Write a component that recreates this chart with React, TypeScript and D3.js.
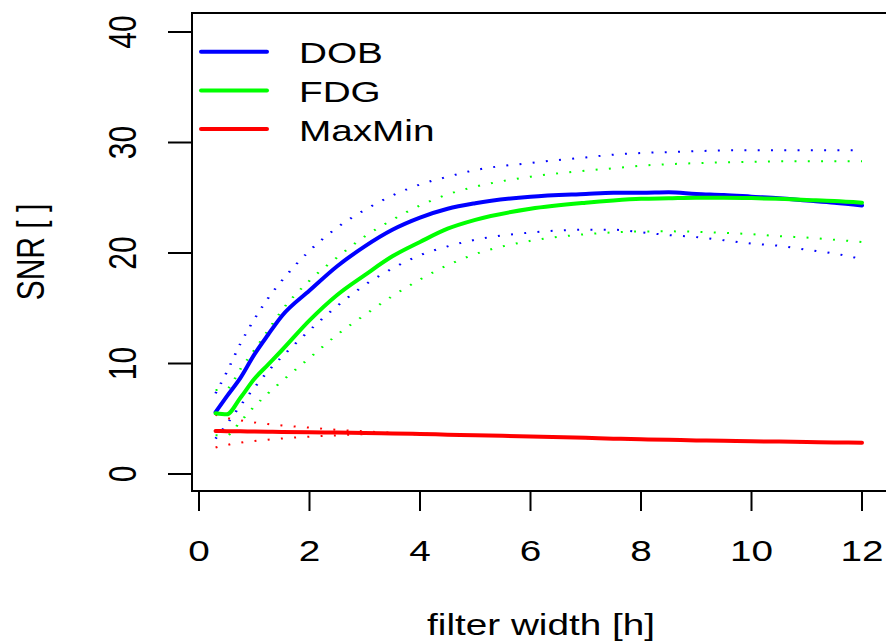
import React from "react";
import * as d3 from "d3";

// ---- data ----
const X = [0.3, 0.5, 0.75, 1, 1.25, 1.5, 2, 2.5, 3, 3.5, 4, 4.5, 5, 6, 7, 7.5, 8, 8.5, 9, 9.5, 10, 10.5, 11, 11.5, 12];

const DOB = [5.6, 7.0, 8.7, 10.8, 12.6, 14.3, 16.6, 18.8, 20.6, 22.1, 23.2, 24.0, 24.5, 25.1, 25.35, 25.45, 25.45, 25.5, 25.35, 25.25, 25.1, 24.95, 24.75, 24.55, 24.3];
const DOB_UP = [7.3, 9.2, 11.8, 14.0, 15.9, 17.5, 20.2, 22.3, 23.9, 25.2, 26.2, 26.9, 27.5, 28.15, 28.65, 28.9, 29.05, 29.13, 29.22, 29.28, 29.3, 29.3, 29.3, 29.3, 29.3];
const DOB_LO = [3.2, 4.5, 6.2, 7.8, 9.3, 10.6, 13.0, 15.2, 17.1, 18.6, 19.8, 20.6, 21.2, 21.85, 22.1, 22.1, 21.88, 21.62, 21.45, 21.15, 20.85, 20.65, 20.3, 19.95, 19.45];

const FDG = [5.5, 5.4, 6.9, 8.6, 9.9, 11.2, 13.9, 16.2, 18.0, 19.7, 21.0, 22.2, 23.0, 24.0, 24.55, 24.75, 24.9, 24.95, 25.0, 25.0, 24.97, 24.9, 24.8, 24.7, 24.55];
const FDG_UP = [7.6, 7.7, 9.5, 11.2, 13.0, 14.8, 17.5, 19.6, 21.5, 23.0, 24.3, 25.3, 26.0, 26.9, 27.45, 27.67, 27.9, 28.04, 28.13, 28.2, 28.25, 28.3, 28.3, 28.3, 28.3];
const FDG_LO = [3.5, 3.5, 4.75, 6.1, 7.3, 8.4, 10.5, 12.6, 14.4, 16.1, 17.6, 18.9, 19.9, 21.1, 21.7, 21.87, 21.95, 21.96, 21.92, 21.82, 21.7, 21.52, 21.4, 21.2, 21.0];

const MAXMIN = [3.9, 3.88, 3.86, 3.84, 3.82, 3.8, 3.78, 3.75, 3.72, 3.67, 3.62, 3.56, 3.5, 3.4, 3.27, 3.2, 3.14, 3.09, 3.04, 3.0, 2.96, 2.93, 2.89, 2.86, 2.83];
const MAXMIN_UP = [5.35, 5.08, 4.85, 4.67, 4.52, 4.39, 4.2, 4.0, 3.86, 3.74, 3.66, 3.58, 3.52, 3.42, 3.29, 3.22, 3.16, 3.11, 3.06, 3.02, 2.98, 2.95, 2.91, 2.88, 2.85];
const MAXMIN_LO = [2.4, 2.62, 2.84, 2.98, 3.1, 3.21, 3.38, 3.5, 3.6, 3.62, 3.58, 3.54, 3.48, 3.38, 3.25, 3.18, 3.12, 3.07, 3.02, 2.98, 2.94, 2.91, 2.87, 2.84, 2.81];

const X_TICKS = [0, 2, 4, 6, 8, 10, 12];
const Y_TICKS = [0, 10, 20, 30, 40];
const LEGEND = ["DOB", "FDG", "MaxMin"];
const COLORS = ["#0000ff", "#00ff00", "#ff0000"];
const X_LABEL = "filter width [h]";
const Y_LABEL = "SNR [ ]";

// ---- layout ----
const W = 886, H = 644;
const SX = 1.29; // horizontal stretch of the original picture
const FONT = "'Liberation Sans', Arial, Helvetica, sans-serif";
const FS = 30;
const BOX = { left: 192, right: 888, top: 13, bottom: 491 };

export default function App() {
  const x = d3.scaleLinear().domain([0, 12]).range([199, 862]);
  const y = d3.scaleLinear().domain([0, 40]).range([474, 32]);

  const solid = (vals: number[]) =>
    d3.line<number>().x((_, i) => x(X[i])).y((d) => y(d)).curve(d3.curveMonotoneX)(vals) || "";
  // dotted lines drawn in unstretched local coordinates, then stretched
  const dotted = (vals: number[]) =>
    d3.line<number>().x((_, i) => x(X[i]) / SX).y((d) => y(d)).curve(d3.curveMonotoneX)(vals) || "";

  const series = [
    { mid: DOB, up: DOB_UP, lo: DOB_LO, color: COLORS[0] },
    { mid: FDG, up: FDG_UP, lo: FDG_LO, color: COLORS[1] },
    { mid: MAXMIN, up: MAXMIN_UP, lo: MAXMIN_LO, color: COLORS[2] },
  ];

  const txt = (tx: number, ty: number, rot: boolean) =>
    `translate(${tx},${ty}) scale(${SX},1)${rot ? " rotate(-90)" : ""}`;

  return (
    <svg width={W} height={H} style={{ position: "absolute", left: 0, top: 0, background: "#fff" }}
      fontFamily={FONT} fontSize={FS}>
      <rect x={0} y={0} width={W} height={H} fill="#fff" />
      {/* dotted confidence bands */}
      <g transform={`scale(${SX},1)`} fill="none" strokeWidth={2} strokeDasharray="1.5 8.8">
        {series.map((s, i) => (
          <g key={i} stroke={s.color}>
            <path d={dotted(s.up)} />
            <path d={dotted(s.lo)} />
          </g>
        ))}
      </g>
      {/* solid lines */}
      {series.map((s, i) => (
        <path key={i} d={solid(s.mid)} fill="none" stroke={s.color} strokeWidth={4} strokeLinejoin="round" strokeLinecap="round" />
      ))}
      {/* box */}
      <rect x={BOX.left} y={BOX.top} width={BOX.right - BOX.left} height={BOX.bottom - BOX.top}
        fill="none" stroke="#000" strokeWidth={2} />
      {/* x axis */}
      {X_TICKS.map((t) => (
        <g key={t}>
          <line x1={x(t)} x2={x(t)} y1={BOX.bottom} y2={BOX.bottom + 20} stroke="#000" strokeWidth={2} />
          <text transform={txt(x(t), 561, false)} textAnchor="middle">{t}</text>
        </g>
      ))}
      {/* y axis */}
      {Y_TICKS.map((t) => (
        <g key={t}>
          <line x1={BOX.left - 24} x2={BOX.left} y1={y(t)} y2={y(t)} stroke="#000" strokeWidth={2} />
          <text transform={txt(136, y(t), true)} textAnchor="middle">{t}</text>
        </g>
      ))}
      <text transform={txt((BOX.left + BOX.right) / 2 + 1, 635, false)} textAnchor="middle">{X_LABEL}</text>
      <text transform={txt(44, (BOX.top + BOX.bottom) / 2, true)} textAnchor="middle">{Y_LABEL}</text>
      {/* legend */}
      {LEGEND.map((name, i) => {
        const ly = 51.7 + i * 38.7;
        return (
          <g key={name}>
            <line x1={201} x2={267} y1={ly} y2={ly} stroke={COLORS[i]} strokeWidth={4} strokeLinecap="round" />
            <text transform={txt(299, ly + 11.6, false)}>{name}</text>
          </g>
        );
      })}
    </svg>
  );
}
